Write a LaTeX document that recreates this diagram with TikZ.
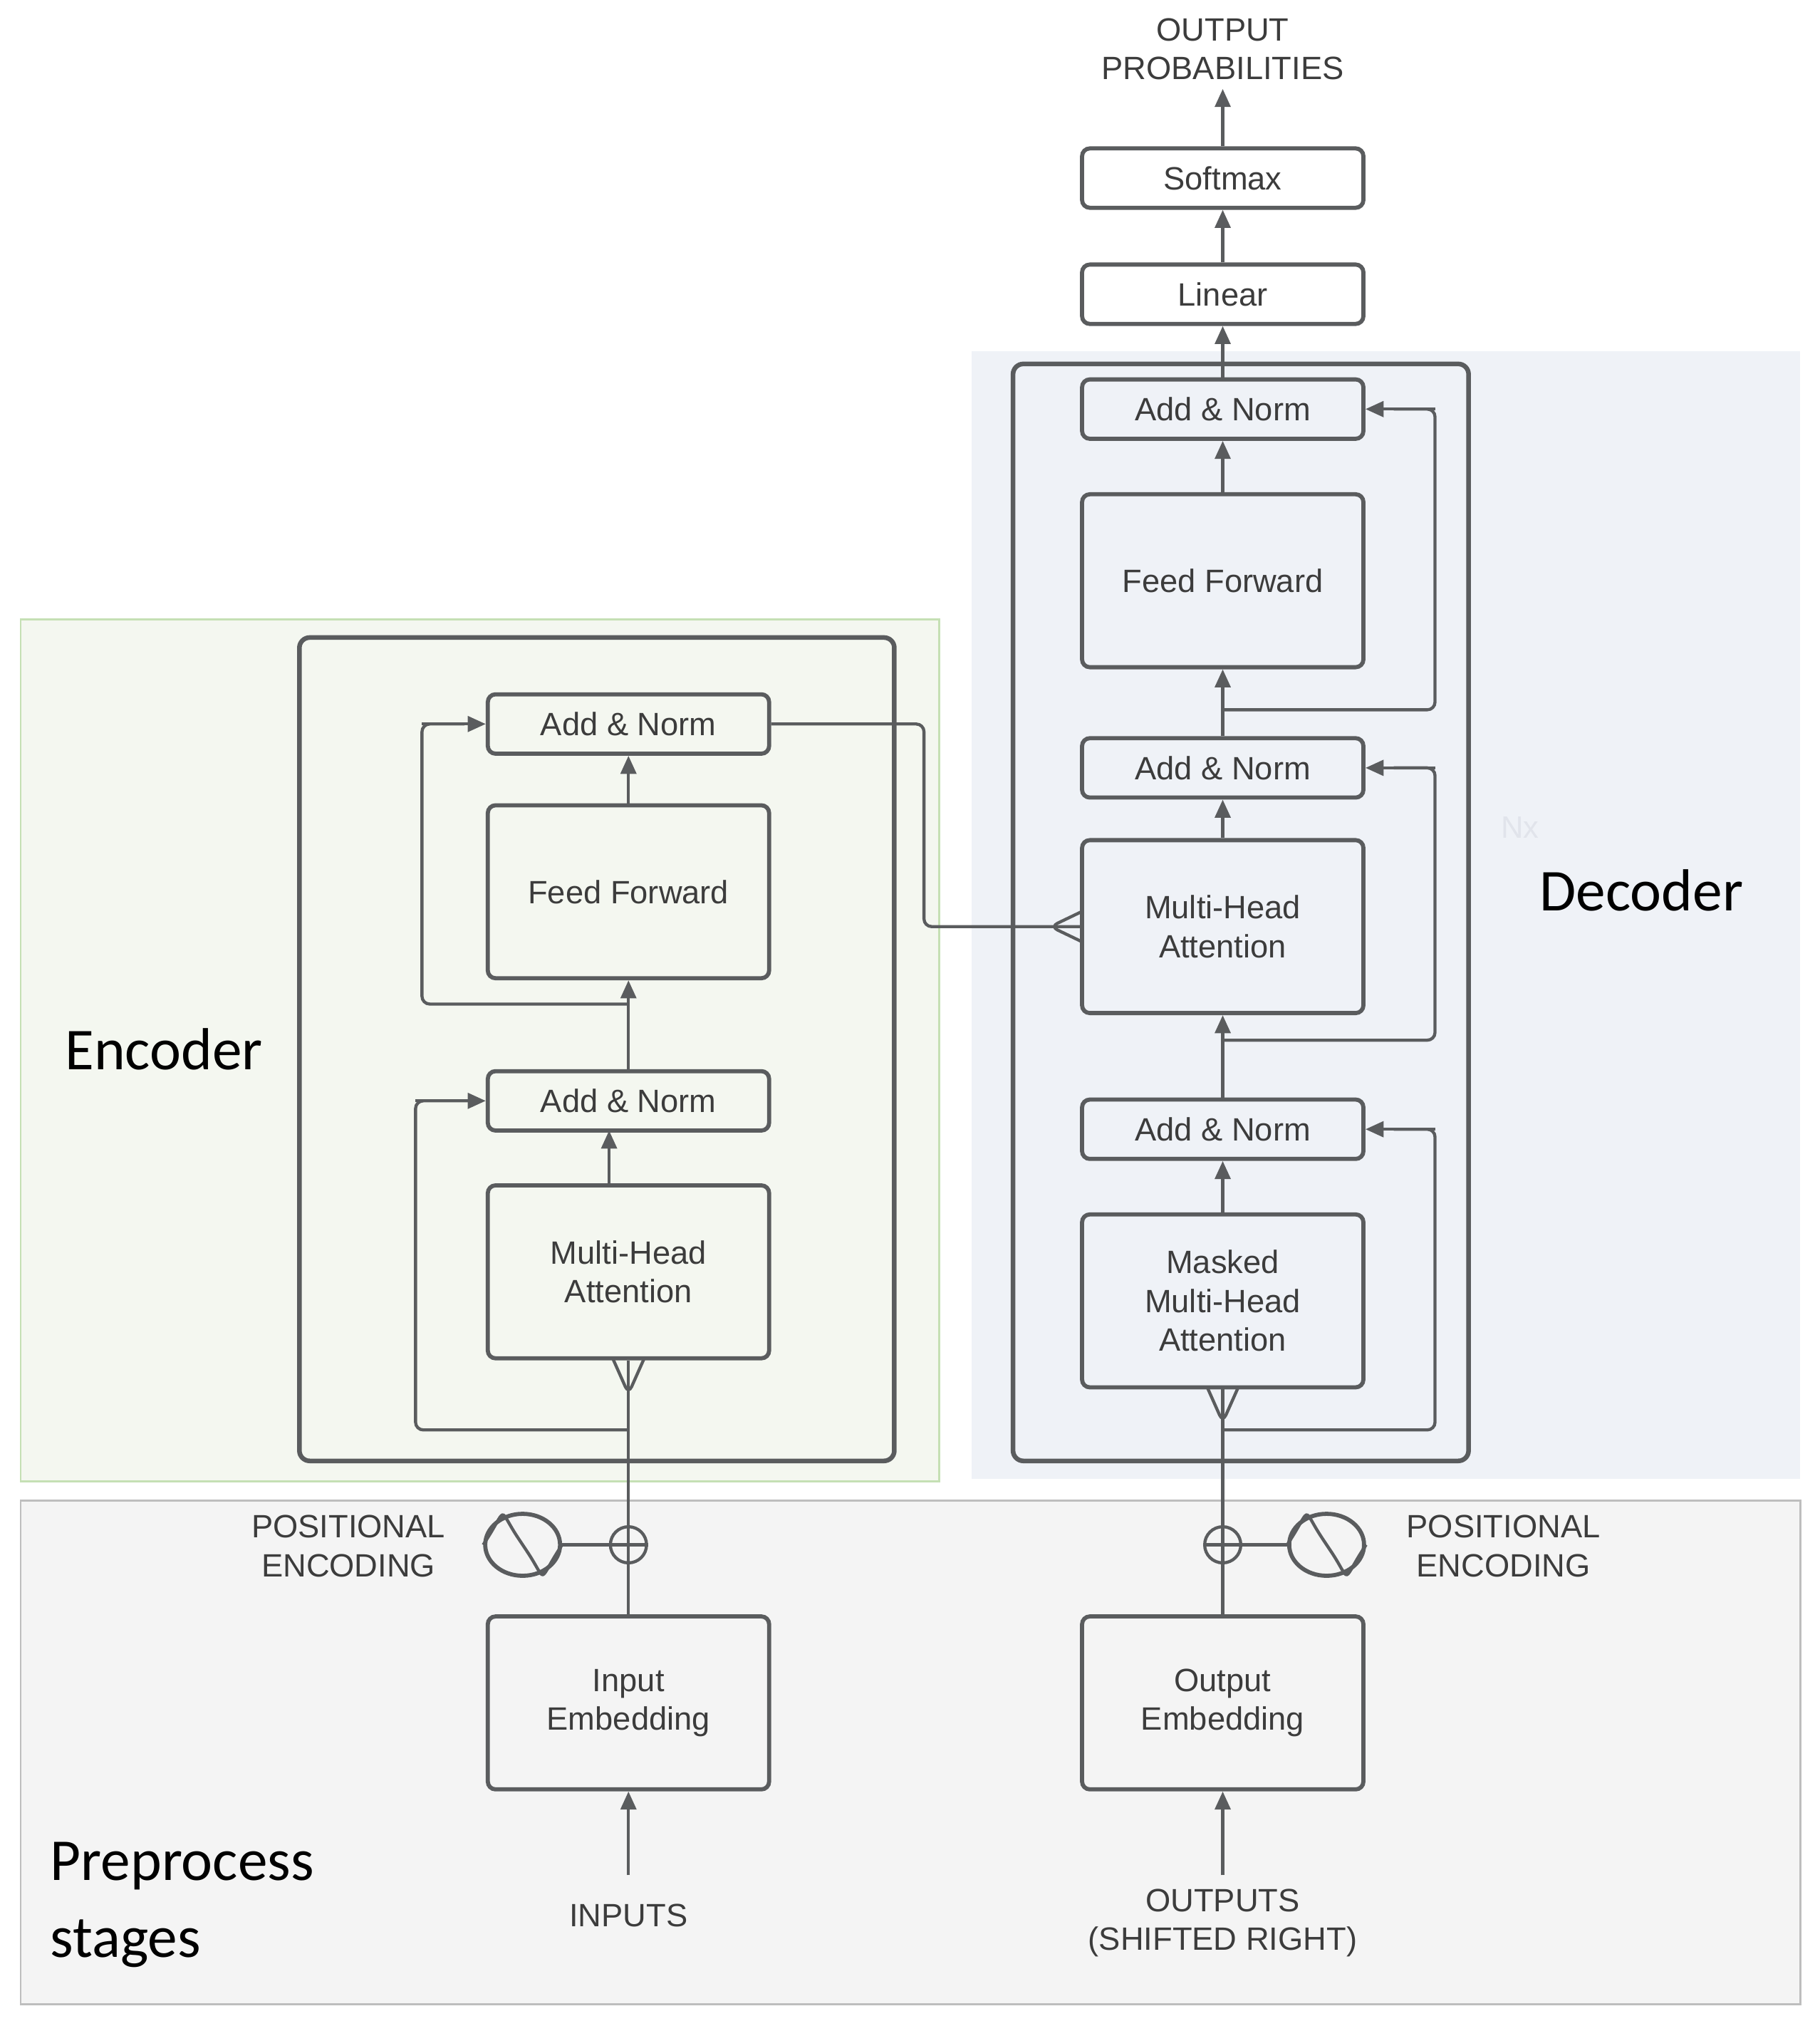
\documentclass[tikz,border=0pt]{standalone}
\usepackage{fontspec}
\setmainfont{Liberation Sans}
\newfontfamily\myclb{Carlito}
\usetikzlibrary{arrows.meta,shapes.geometric}
\definecolor{ln}{HTML}{5A5C5E}
\definecolor{tx}{HTML}{3C3C3C}
\begin{document}
\begin{tikzpicture}[x=0.5pt,y=-0.5pt,
 box/.style={draw=ln,line width=1.6pt,rounded corners=3pt,minimum width=109pt,align=center,text=tx,font=\fontsize{12.5}{15}\selectfont,inner sep=0pt},
 sm/.style={box,minimum height=23pt},
 bg/.style={box,minimum height=67pt},
 ar/.style={draw=ln,line width=1.2pt,-{Triangle[length=7pt,width=6pt]}},
 ln/.style={draw=ln,line width=1.2pt,rounded corners=3pt},
 lab/.style={text=tx,align=center,font=\fontsize{12.5}{15}\selectfont},
 big/.style={font=\myclb\fontsize{23}{30}\selectfont,align=left}]
\useasboundingbox (0,0) rectangle (1410,1566);
% backgrounds
\filldraw[fill={rgb,255:red,244;green,247;blue,240},draw={rgb,255:red,197;green,224;blue,180},line width=0.8pt] (16,480) rectangle (728,1148);
\fill[fill={rgb,255:red,239;green,242;blue,247}] (753,272) rectangle (1395,1146);
\filldraw[fill={rgb,255:red,244;green,244;blue,244},draw={rgb,255:red,190;green,190;blue,190},line width=0.8pt] (16,1163) rectangle (1395,1553);
\draw[draw=ln,line width=1.8pt,rounded corners=4pt] (232,494) rectangle (693,1132);
\draw[draw=ln,line width=1.8pt,rounded corners=4pt] (785,282) rectangle (1138,1132);
% encoder
\node[sm] (ean2) at (487,561) {Add \& Norm};
\node[bg] (eff) at (487,691) {Feed Forward};
\node[sm] (ean1) at (487,853) {Add \& Norm};
\node[bg] (emha) at (487,985.5) {Multi-Head\\Attention};
% decoder
\node[sm] (soft) at (947.5,138) {Softmax};
\node[sm] (lin) at (947.5,228) {Linear};
\node[sm] (dan3) at (947.5,317) {Add \& Norm};
\node[bg] (dff) at (947.5,450) {Feed Forward};
\node[sm] (dan2) at (947.5,595) {Add \& Norm};
\node[bg] (dmha) at (947.5,718) {Multi-Head\\Attention};
\node[sm] (dan1) at (947.5,875) {Add \& Norm};
\node[bg] (dmm) at (947.5,1008) {Masked\\Multi-Head\\Attention};
% embeddings
\node[bg] (iemb) at (487,1319.5) {Input\\Embedding};
\node[bg] (oemb) at (947.5,1319.5) {Output\\Embedding};
% labels
\node[lab] (outp) at (947.5,38) {OUTPUT\\PROBABILITIES};
\node[lab] (inp) at (487,1484) {INPUTS};
\node[lab] (outs) at (947.5,1490) {OUTPUTS\\(SHIFTED RIGHT)};
\node[lab] (pe1) at (270,1198) {POSITIONAL\\ENCODING};
\node[lab] (pe2) at (1165,1198) {POSITIONAL\\ENCODING};
\node[text={rgb,255:red,225;green,228;blue,235},font=\fontsize{12}{14}\selectfont] (nx) at (1178,641) {Nx};
\node[big] (dl) at (1272,690) {Decoder};
\node[big] (el) at (127,813) {Encoder};
\node[big,anchor=west] (pl) at (32,1476) {Preprocess\\stages};
% positional encoding symbols
\node[circle,draw=ln,line width=1.2pt,minimum size=14pt,inner sep=0pt] (ep) at (487,1197) {};
\draw[ln,rounded corners=0pt] (ep.north)--(ep.south) (ep.west)--(ep.east);
\node[ellipse,draw=ln,line width=1.6pt,minimum width=29pt,minimum height=24pt,inner sep=0pt] (es) at (405,1197) {};
\draw[ln] (es.west) .. controls +(20,-30) and +(-20,-30) .. (es.center) .. controls +(20,30) and +(-20,30) .. (es.east);
\node[circle,draw=ln,line width=1.2pt,minimum size=14pt,inner sep=0pt] (dp) at (947.5,1197) {};
\draw[ln,rounded corners=0pt] (dp.north)--(dp.south) (dp.west)--(dp.east);
\node[ellipse,draw=ln,line width=1.6pt,minimum width=29pt,minimum height=24pt,inner sep=0pt] (ds) at (1028,1197) {};
\draw[ln] (ds.west) .. controls +(20,-30) and +(-20,-30) .. (ds.center) .. controls +(20,30) and +(-20,30) .. (ds.east);
\draw[ln] (es)--(ep); \draw[ln] (ds)--(dp);
% encoder connectors
\coordinate (i1) at (487,1453);
\draw[ar] (i1) -- (iemb.south);
\draw[ln] (iemb.north)--(ep.south);
\draw[ln] (ep.north)--(emha.south);
\draw[ln] (475,1053)--(487,1080)--(499,1053);
\draw[ln] (487,1108)--(322,1108)--(322,853)--(365,853);
\draw[ar] (322,853)--(ean1.west);
\draw[ar] (472,918)--(472,876);
\draw[ar] (ean1.north)--(eff.south);
\draw[ln] (487,778)--(327,778)--(327,561)--(360,561);
\draw[ar] (327,561)--(ean2.west);
\draw[ar] (eff.north)--(ean2.south);
\draw[ln] (ean2.east)--(716,561)--(716,718)--(dmha.west);
\draw[ln] (839,706)--(814,718)--(839,730);
% decoder connectors
\coordinate (o1) at (947.5,1453);
\draw[ar] (o1) -- (oemb.south);
\draw[ln] (oemb.north)--(dp.south);
\draw[ln] (dp.north)--(dmm.south);
\draw[ln] (935.5,1075)--(947.5,1102)--(959.5,1075);
\draw[ln] (947.5,1108)--(1112,1108)--(1112,875)--(1080,875);
\draw[ar] (1112,875)--(dan1.east);
\draw[ar] (dmm.north)--(dan1.south);
\draw[ar] (dan1.north)--(dmha.south);
\draw[ln] (947.5,806)--(1112,806)--(1112,595)--(1080,595);
\draw[ar] (1112,595)--(dan2.east);
\draw[ar] (dmha.north)--(dan2.south);
\draw[ar] (dan2.north)--(dff.south);
\draw[ln] (947.5,550)--(1112,550)--(1112,317)--(1080,317);
\draw[ar] (1112,317)--(dan3.east);
\draw[ar] (dff.north)--(dan3.south);
\draw[ar] (dan3.north)--(lin.south);
\draw[ar] (lin.north)--(soft.south);
\draw[ar] (soft.north)--(outp.south);
\end{tikzpicture}
\end{document}
